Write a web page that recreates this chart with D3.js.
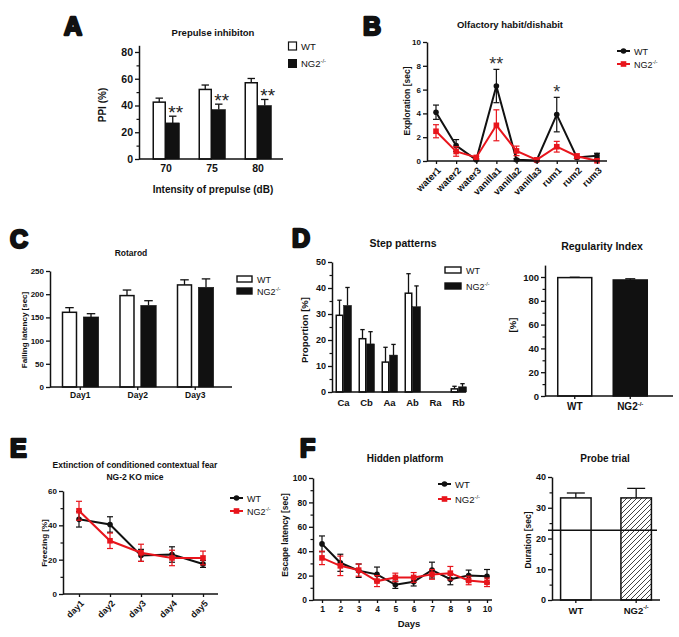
<!DOCTYPE html>
<html><head><meta charset="utf-8">
<script src="https://cdn.jsdelivr.net/npm/d3@7"></script>
<style>
body{margin:0;background:#fff}
svg{display:block}
text{font-family:"Liberation Sans",Arial,Helvetica,sans-serif}
</style>
</head><body>
<svg id="c" width="679" height="637"></svg>
<script>
// ---------------- DATA ----------------
// A: Prepulse inhibition
const ppiCategories = ["70", "75", "80"];
const ppiWT = [42.5, 52, 57];
const ppiWTErr = [3, 3.3, 3.2];
const ppiNG2 = [27, 37, 40];
const ppiNG2Err = [5, 4, 4.5];
const ppiStars = ["**", "**", "**"];
const ppiTicks = [0, 20, 40, 60, 80];

// B: Olfactory habituation/dishabituation
const olfCategories = ["water1","water2","water3","vanilla1","vanilla2","vanilla3","rum1","rum2","rum3"];
const olfWT = [4.1, 1.3, 0.1, 6.3, 0.1, 0.05, 3.9, 0.3, 0.45];
const olfWTErr = [0.6, 0.5, 0.05, 1.4, 0.1, 0.05, 1.45, 0.1, 0.2];
const olfNG2 = [2.5, 0.8, 0.3, 3.0, 0.85, 0.1, 1.2, 0.4, 0.02];
const olfNG2Err = [0.55, 0.4, 0.1, 1.3, 0.4, 0.05, 0.45, 0.2, 0.05];
const olfStars = ["", "", "", "**", "", "", "*", "", ""];
const olfTicks = [0, 2, 4, 6, 8, 10];

// C: Rotarod
const rotDays = ["Day1", "Day2", "Day3"];
const rotWT = [161, 197, 220];
const rotWTErr = [10, 12, 11];
const rotNG2 = [151, 176, 215];
const rotNG2Err = [7, 10, 18];
const rotTicks = [0, 50, 100, 150, 200, 250];

// D: Step patterns
const stepCategories = ["Ca", "Cb", "Aa", "Ab", "Ra", "Rb"];
const stepWT = [29.5, 20.5, 11.5, 38, 0, 1.2];
const stepWTErr = [5.8, 3.5, 5.7, 7.5, 0, 1.0];
const stepNG2 = [33.3, 18.5, 14.2, 32.8, 0, 2.0];
const stepNG2Err = [6.9, 4.7, 4.1, 8, 0, 1.2];
const stepTicks = [0, 10, 20, 30, 40, 50];

// D: Regularity index
const regGroups = ["WT", "NG2"];
const regValues = [99.5, 97.5];
const regErr = [0.3, 1.0];
const regTicks = [0, 20, 40, 60, 80, 100];

// E: Extinction of conditioned contextual fear
const fearDays = ["day1", "day2", "day3", "day4", "day5"];
const fearWT = [43.5, 40.5, 22.5, 23, 17.5];
const fearWTErr = [4.5, 4.5, 3.5, 4.5, 2];
const fearNG2 = [48.5, 31, 24, 21, 21];
const fearNG2Err = [5.5, 4.5, 5, 4.5, 4];
const fearTicks = [0, 20, 40, 60];

// F: Hidden platform
const mwmDays = ["1","2","3","4","5","6","7","8","9","10"];
const mwmWT = [46, 30.5, 24, 21, 12.5, 15, 24.5, 17, 20, 19.5];
const mwmWTErr = [6.5, 7, 5.5, 6, 3, 3.5, 6.5, 4.5, 4.5, 5.5];
const mwmNG2 = [34.5, 28, 24.5, 15.5, 18.5, 18.5, 21, 22, 16, 14.5];
const mwmNG2Err = [5.5, 8, 5, 4.5, 3.5, 4, 4, 5.5, 3.5, 3.5];
const mwmTicks = [0, 20, 40, 60, 80, 100];

// F: Probe trial
const probeGroups = ["WT", "NG2"];
const probeValues = [33.2, 33.2];
const probeErr = [1.6, 3.1];
const probeChance = 22.7;
const probeTicks = [0, 10, 20, 30, 40];

// ---------------- DRAWING ----------------
const RED = "#e8151c";
const svg = d3.select("#c");
const defs = svg.append("defs");
const pat = defs.append("pattern").attr("id","hatch").attr("patternUnits","userSpaceOnUse")
  .attr("width",5).attr("height",5);
pat.append("rect").attr("width",5).attr("height",5).attr("fill","#fff");
pat.append("path").attr("d","M0,5L5,0M-1,1L1,-1M4,6L6,4").attr("stroke","#111").attr("stroke-width",0.8);

function txt(g, x, y, s, o = {}) {
  const t = g.append("text").attr("x", x).attr("y", y)
    .attr("font-size", o.size || 9).attr("font-weight", o.weight || "bold")
    .attr("text-anchor", o.anchor || "middle").attr("fill", o.fill || "#111");
  if (o.rotate) t.attr("transform", `rotate(${o.rotate},${x},${y})`);
  t.text(s);
  return t;
}
function ng2(g, x, y, o = {}) {
  const t = txt(g, x, y, "", o);
  t.append("tspan").text("NG2");
  t.append("tspan").attr("font-size", (o.size || 9) * 0.6).attr("dy", -(o.size || 9) * 0.4).text("-/-");
  return t;
}
function panelLetter(x, y, s) {
  svg.append("text").attr("x", x).attr("y", y).attr("font-size", 25).attr("font-weight", "bold")
    .attr("fill", "#111").attr("stroke", "#111").attr("stroke-width", 2.4).attr("stroke-linejoin","round").text(s);
}
function yAxis(g, y, x, major, minor, fs) {
  const a = g.append("g").attr("transform", `translate(${x},0)`)
    .call(d3.axisLeft(y).tickValues(major).tickSize(4).tickSizeOuter(0).tickPadding(2));
  a.select(".domain").attr("stroke", "#111").attr("stroke-width", 1.5);
  a.selectAll(".tick line").attr("stroke", "#111").attr("stroke-width", 1.3);
  a.selectAll(".tick text").attr("font-size", fs).attr("font-weight", "bold").attr("fill", "#111")
    .attr("font-family", '"Liberation Sans",Arial,sans-serif');
  if (minor) {
    const m = g.append("g").attr("transform", `translate(${x},0)`)
      .call(d3.axisLeft(y).tickValues(minor).tickSize(2.5).tickFormat(""));
    m.select(".domain").remove();
    m.selectAll(".tick line").attr("stroke", "#111").attr("stroke-width", 1.2);
  }
}
function xAxis(g, scale, y0, x0, x1, fs, opt = {}) {
  const a = g.append("g").attr("transform", `translate(0,${y0})`)
    .call(d3.axisBottom(scale).tickSize(opt.tick === undefined ? 3 : opt.tick).tickSizeOuter(0).tickPadding(opt.pad || 3));
  a.select(".domain").attr("d", `M${x0},0H${x1}`).attr("stroke", "#111").attr("stroke-width", 1.5);
  a.selectAll(".tick line").attr("stroke", "#111").attr("stroke-width", 1.3);
  a.selectAll(".tick text").attr("font-size", fs).attr("font-weight", "bold").attr("fill", "#111")
    .attr("font-family", '"Liberation Sans",Arial,sans-serif');
  if (opt.rotate) {
    a.selectAll(".tick text").attr("text-anchor", "end").attr("dy", null).attr("y", 0)
      .attr("transform", `translate(${opt.rdx || 2},${opt.rdy || 9}) rotate(-45)`);
  }
  if (opt.superNG2) {
    a.selectAll(".tick text").filter(d => d === "NG2").each(function () {
      const t = d3.select(this); t.text("");
      t.append("tspan").text("NG2");
      t.append("tspan").attr("font-size", fs * 0.6).attr("dy", -fs * 0.45).text("-/-");
    });
  }
  return a;
}
function errBar(g, x, yTop, yBot, cap, color, w) {
  g.append("line").attr("x1", x).attr("x2", x).attr("y1", yTop).attr("y2", yBot).attr("stroke", color).attr("stroke-width", w || 1.3);
  g.append("line").attr("x1", x - cap / 2).attr("x2", x + cap / 2).attr("y1", yTop).attr("y2", yTop).attr("stroke", color).attr("stroke-width", w || 1.3);
}
function errBar2(g, x, yTop, yBot, cap, color) {
  g.append("line").attr("x1", x).attr("x2", x).attr("y1", yTop).attr("y2", yBot).attr("stroke", color).attr("stroke-width", 1.2);
  [yTop, yBot].forEach(yy => g.append("line").attr("x1", x - cap / 2).attr("x2", x + cap / 2)
    .attr("y1", yy).attr("y2", yy).attr("stroke", color).attr("stroke-width", 1.2));
}
// grouped bar chart
function groupedBars(g, cats, xg, xs, y, series) {
  series.forEach(s => {
    cats.forEach((c, i) => {
      const v = s.values[i], e = s.err[i];
      const bx = xg(c) + xg.bandwidth() / 2 + xs(s.key);
      const bw = xs.bandwidth();
      if (e > 0) errBar(g, bx + bw / 2, y(v + e), y(v), bw * 0.55, "#111", 1.3);
      if (v > 0) g.append("rect").attr("x", bx + (s.white ? 0.75 : 0)).attr("y", y(v))
        .attr("width", bw - (s.white ? 1.5 : 0)).attr("height", y(0) - y(v))
        .attr("fill", s.white ? "#fff" : "#111").attr("stroke", "#111").attr("stroke-width", s.white ? 1.5 : 0.5);
    });
  });
}
// line series with markers
function lineSeries(g, cats, x, y, values, err, color, shape) {
  cats.forEach((c, i) => errBar2(g, x(c), y(values[i] + err[i]), y(Math.max(0, values[i] - err[i])), 6, color));
  g.append("path").datum(values).attr("fill", "none").attr("stroke", color).attr("stroke-width", 2)
    .attr("d", d3.line().x((d, i) => x(cats[i])).y(d => y(d)));
  cats.forEach((c, i) => marker(g, x(c), y(values[i]), color, shape));
}
function marker(g, cx, cy, color, shape) {
  if (shape === "circle") g.append("circle").attr("cx", cx).attr("cy", cy).attr("r", 2.8).attr("fill", color);
  else g.append("rect").attr("x", cx - 2.8).attr("y", cy - 2.8).attr("width", 5.6).attr("height", 5.6).attr("fill", color);
}
function lineLegend(g, x, y1, y2, fs) {
  [[y1, "#111", "circle"], [y2, RED, "square"]].forEach(([yy, col, sh]) => {
    g.append("line").attr("x1", x).attr("x2", x + 13).attr("y1", yy).attr("y2", yy).attr("stroke", col).attr("stroke-width", 2);
    marker(g, x + 6.5, yy, col, sh);
  });
  txt(g, x + 17, y1 + 3.5, "WT", { size: fs, weight: "normal", anchor: "start" });
  ng2(g, x + 17, y2 + 3.5, { size: fs, weight: "normal", anchor: "start" });
}
function boxLegend(g, x, y1, y2, w, h, fs, tx) {
  g.append("rect").attr("x", x).attr("y", y1 - h / 2).attr("width", w).attr("height", h).attr("fill", "#fff").attr("stroke", "#111").attr("stroke-width", 1.4);
  g.append("rect").attr("x", x - 0.7).attr("y", y2 - h / 2 - 0.7).attr("width", w + 1.4).attr("height", h + 1.4).attr("fill", "#111");
  txt(g, tx, y1 + 3.5, "WT", { size: fs, weight: "normal", anchor: "start" });
  ng2(g, tx, y2 + 3.5, { size: fs, weight: "normal", anchor: "start" });
}

// ===== Panel A =====
{
  const g = svg.append("g");
  panelLetter(64, 35, "A");
  txt(g, 213, 36, "Prepulse inhibiton", { size: 9.5 });
  const y = d3.scaleLinear().domain([0, 85]).range([159, 45.3]);
  const xg = d3.scaleBand().domain(ppiCategories).range([143, 281]);
  const xs = d3.scaleBand().domain(["WT", "NG2"]).range([-13.5, 13.5]);
  groupedBars(g, ppiCategories, xg, xs, y, [
    { key: "WT", values: ppiWT, err: ppiWTErr, white: true },
    { key: "NG2", values: ppiNG2, err: ppiNG2Err }]);
  ppiCategories.forEach((c, i) => {
    txt(g, xg(c) + xg.bandwidth() / 2 + xs("NG2") + xs.bandwidth() / 2 + 3,
      y(ppiNG2[i] + ppiNG2Err[i]) + 3, ppiStars[i], { size: 19, weight: "normal", fill: "#222" });
  });
  yAxis(g, y, 139, ppiTicks, [10, 30, 50, 70], 10.5);
  xAxis(g, xg, 159, 139, 283, 10.5, { tick: 0, pad: 6 });
  txt(g, 106, 105, "PPI (%)", { size: 10, rotate: -90 });
  txt(g, 213, 193, "Intensity of prepulse (dB)", { size: 10 });
  g.append("rect").attr("x", 288.5).attr("y", 42).attr("width", 8).attr("height", 8).attr("fill", "#fff").attr("stroke", "#111").attr("stroke-width", 1.2);
  g.append("rect").attr("x", 288).attr("y", 59).attr("width", 9).attr("height", 9).attr("fill", "#111");
  txt(g, 301, 49.5, "WT", { size: 9.5, weight: "normal", anchor: "start" });
  ng2(g, 301, 66.5, { size: 9.5, weight: "normal", anchor: "start" });
}

// ===== Panel B =====
{
  const g = svg.append("g");
  panelLetter(363, 35, "B");
  txt(g, 510, 28, "Olfactory habit/dishabit", { size: 9.5 });
  const y = d3.scaleLinear().domain([0, 10]).range([161, 42]);
  const x = d3.scalePoint().domain(olfCategories).range([436, 597]);
  yAxis(g, y, 427, olfTicks, null, 8);
  lineSeries(g, olfCategories, x, y, olfWT, olfWTErr, "#111", "circle");
  lineSeries(g, olfCategories, x, y, olfNG2, olfNG2Err, RED, "square");
  xAxis(g, x, 161, 427, 607, 9.5, { rotate: true, rdx: 5, rdy: 10 });
  olfCategories.forEach((c, i) => {
    if (olfStars[i]) txt(g, x(c), y(olfWT[i] + olfWTErr[i]) + 1, olfStars[i], { size: 18, weight: "normal", fill: "#333" });
  });
  txt(g, 410, 101, "Exploration [sec]", { size: 8.5, rotate: -90 });
  lineLegend(g, 617, 51, 64, 9);
}

// ===== Panel C =====
{
  const g = svg.append("g");
  panelLetter(10, 248, "C");
  txt(g, 131, 256, "Rotarod", { size: 8.5 });
  const y = d3.scaleLinear().domain([0, 250]).range([387, 271]);
  const xg = d3.scaleBand().domain(rotDays).range([51.5, 224]);
  const xs = d3.scaleBand().domain(["WT", "NG2"]).range([-18.5, 18.5]).paddingInner(0.28);
  groupedBars(g, rotDays, xg, xs, y, [
    { key: "WT", values: rotWT, err: rotWTErr, white: true },
    { key: "NG2", values: rotNG2, err: rotNG2Err }]);
  yAxis(g, y, 50, rotTicks, null, 8);
  xAxis(g, xg, 387, 50, 232, 8.5, { tick: 3, pad: 2 });
  txt(g, 27, 330, "Falling latency [sec]", { size: 8, rotate: -90 });
  boxLegend(g, 237, 279, 291, 15, 6, 9, 257);
}

// ===== Panel D: step patterns =====
{
  const g = svg.append("g");
  panelLetter(292, 247, "D");
  txt(g, 403, 247, "Step patterns", { size: 10.5 });
  const y = d3.scaleLinear().domain([0, 50]).range([392, 262]);
  const xg = d3.scaleBand().domain(stepCategories).range([332, 470]);
  const xs = d3.scaleBand().domain(["WT", "NG2"]).range([-8, 8]);
  groupedBars(g, stepCategories, xg, xs, y, [
    { key: "WT", values: stepWT, err: stepWTErr, white: true },
    { key: "NG2", values: stepNG2, err: stepNG2Err }]);
  yAxis(g, y, 332, stepTicks, [5, 15, 25, 35, 45], 9);
  xAxis(g, xg, 392, 332, 466, 9.5, { tick: 0, pad: 7 });
  txt(g, 308, 330, "Proportion [%]", { size: 9.5, rotate: -90 });
  boxLegend(g, 445, 270, 286, 16, 6, 9, 466);
}

// ===== Panel D: regularity index =====
{
  const g = svg.append("g");
  txt(g, 602, 250, "Regularity Index", { size: 10.5 });
  const y = d3.scaleLinear().domain([0, 110]).range([396, 265.1]);
  const x = d3.scaleBand().domain(regGroups).range([545, 660]).paddingInner(0.36).paddingOuter(0.216);
  regGroups.forEach((c, i) => {
    errBar(g, x(c) + x.bandwidth() / 2, y(regValues[i] + regErr[i]), y(regValues[i]), 10, "#111", 1.3);
    g.append("rect").attr("x", x(c) + 0.75).attr("y", y(regValues[i])).attr("width", x.bandwidth() - 1.5)
      .attr("height", y(0) - y(regValues[i])).attr("fill", i === 0 ? "#fff" : "#111").attr("stroke", "#111").attr("stroke-width", 1.5);
  });
  yAxis(g, y, 545, regTicks, [10, 30, 50, 70, 90], 9.5);
  xAxis(g, x, 396, 545, 673, 10, { tick: 3, pad: 4, superNG2: true });
  txt(g, 516, 325, "[%]", { size: 9.5, rotate: -90 });
}

// ===== Panel E =====
{
  const g = svg.append("g");
  panelLetter(10, 457, "E");
  txt(g, 135, 468, "Extinction of conditioned contextual fear", { size: 8.5 });
  txt(g, 135, 480, "NG-2 KO mice", { size: 8.5 });
  const y = d3.scaleLinear().domain([0, 60]).range([594, 491]);
  const x = d3.scalePoint().domain(fearDays).range([79, 203]);
  yAxis(g, y, 63, fearTicks, [10, 30, 50], 8);
  lineSeries(g, fearDays, x, y, fearWT, fearWTErr, "#111", "circle");
  lineSeries(g, fearDays, x, y, fearNG2, fearNG2Err, RED, "square");
  xAxis(g, x, 594, 63, 218, 9, { rotate: true, rdx: 5, rdy: 10 });
  txt(g, 47, 543, "Freezing [%]", { size: 8, rotate: -90 });
  lineLegend(g, 230, 498, 511, 9);
}

// ===== Panel F: hidden platform =====
{
  const g = svg.append("g");
  panelLetter(300, 457, "F");
  txt(g, 405, 462, "Hidden platform", { size: 10 });
  const y = d3.scaleLinear().domain([0, 100]).range([600, 478]);
  const x = d3.scalePoint().domain(mwmDays).range([322, 487]);
  yAxis(g, y, 313, mwmTicks, [10, 30, 50, 70, 90], 8.5);
  lineSeries(g, mwmDays, x, y, mwmWT, mwmWTErr, "#111", "circle");
  lineSeries(g, mwmDays, x, y, mwmNG2, mwmNG2Err, RED, "square");
  xAxis(g, x, 600, 313, 492, 8.5, { tick: 3, pad: 3 });
  txt(g, 409, 627, "Days", { size: 9.5 });
  txt(g, 288, 535, "Escape latency [sec]", { size: 8.5, rotate: -90 });
  lineLegend(g, 438, 484, 499, 9.5);
}

// ===== Panel F: probe trial =====
{
  const g = svg.append("g");
  txt(g, 605, 462, "Probe trial", { size: 10 });
  const y = d3.scaleLinear().domain([0, 40]).range([600, 477]);
  const x = d3.scaleBand().domain(probeGroups).range([552, 660]).paddingInner(0.47).paddingOuter(0.13);
  probeGroups.forEach((c, i) => {
    errBar(g, x(c) + x.bandwidth() / 2, y(probeValues[i] + probeErr[i]), y(probeValues[i]), 18, "#111", 1.3);
    g.append("rect").attr("x", x(c) + 0.75).attr("y", y(probeValues[i])).attr("width", x.bandwidth() - 1.5)
      .attr("height", y(0) - y(probeValues[i])).attr("fill", i === 0 ? "#fff" : "url(#hatch)").attr("stroke", "#111").attr("stroke-width", 1.5);
  });
  g.append("line").attr("x1", 548).attr("x2", 657).attr("y1", y(probeChance)).attr("y2", y(probeChance)).attr("stroke", "#111").attr("stroke-width", 1.5);
  yAxis(g, y, 552, probeTicks, [5, 15, 25, 35], 9);
  xAxis(g, x, 600, 552, 660, 9.5, { tick: 3, pad: 4, superNG2: true });
  txt(g, 531, 540, "Duration [sec]", { size: 8.5, rotate: -90 });
}
</script>
</body></html>
